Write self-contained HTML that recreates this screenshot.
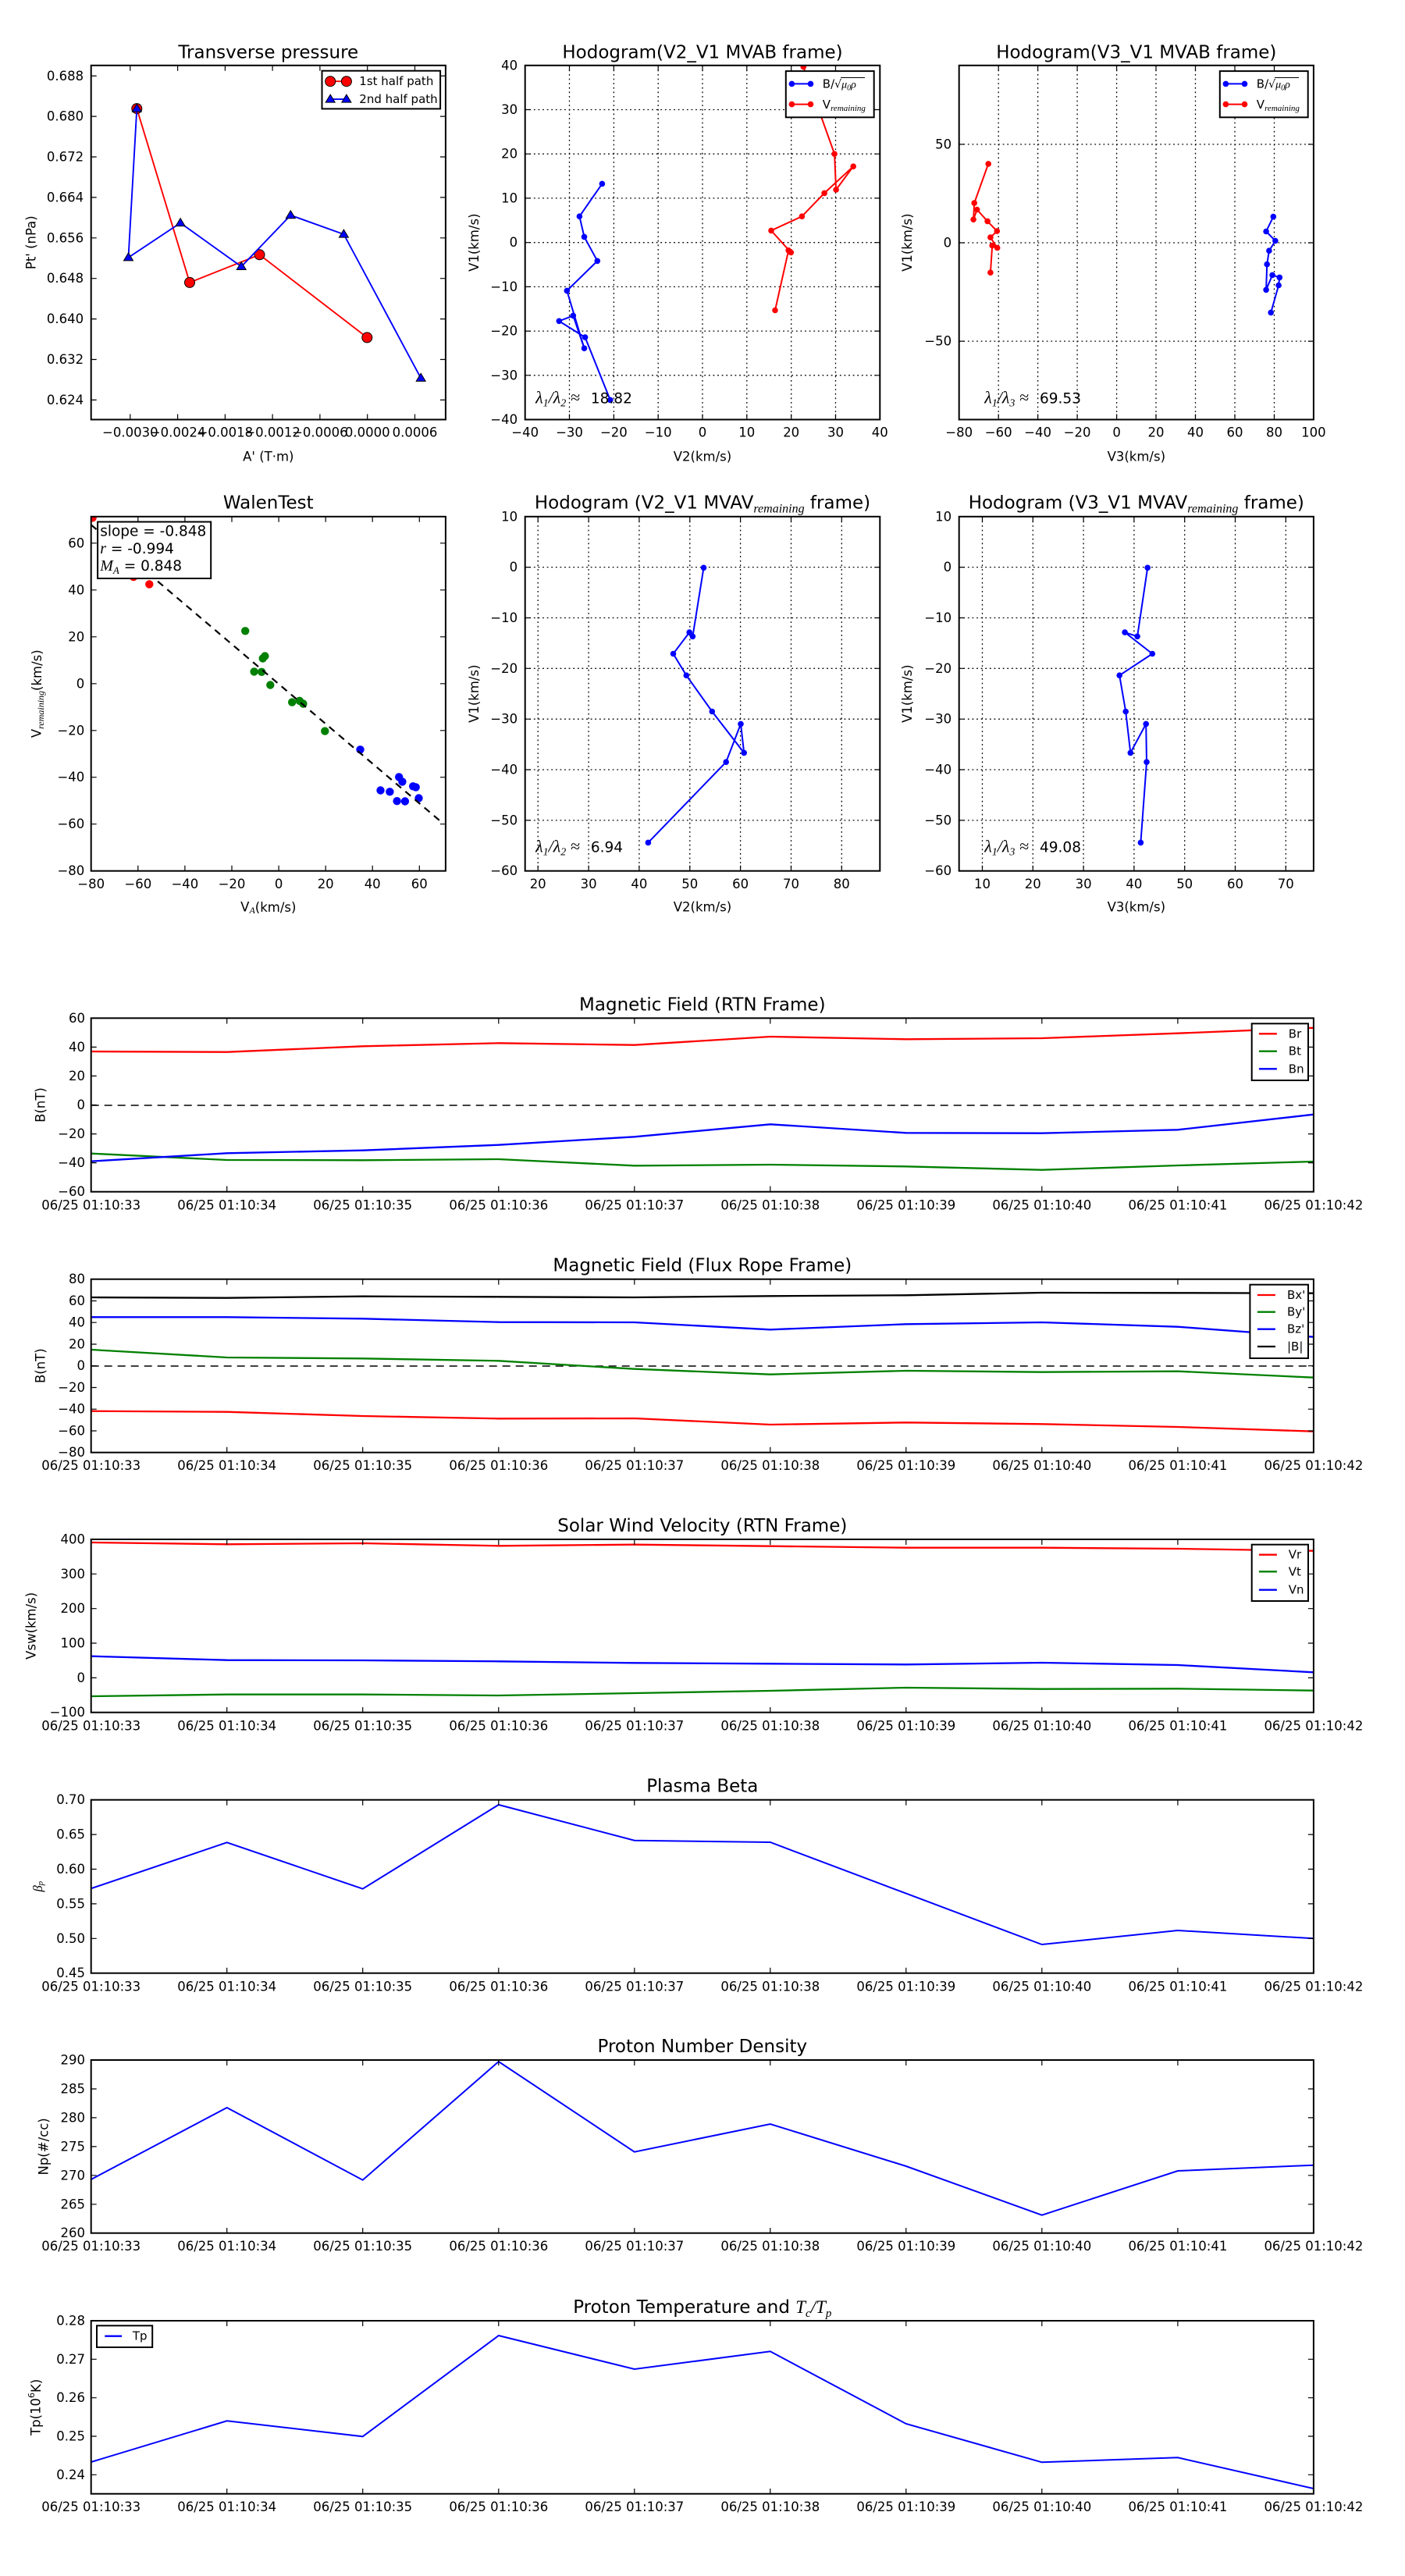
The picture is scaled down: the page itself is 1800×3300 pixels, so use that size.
<!DOCTYPE html>
<html>
<head>
<meta charset="utf-8">
<style>
  html, body { margin:0; padding:0; background:#fff; }
  svg { display:block; }
  text { font-family: "DejaVu Sans", "Liberation Sans", sans-serif; fill:#000; }
  .tk { font-size:16.5px; }
  .lb { font-size:16.5px; }
  .ti { font-size:23px; }
  .lg { font-size:15px; }
  .mt { font-family: "Liberation Serif", "DejaVu Serif", serif; font-style:italic; }
  .ann { font-size:18.5px; }
  .lam { font-size:22px; }
</style>
</head>
<body>
<svg width="1800" height="3300" viewBox="0 0 1800 3300" xmlns="http://www.w3.org/2000/svg">
<defs>
  <clipPath id="c1"><rect x="116.7" y="83.8" width="454.2" height="453.7"/></clipPath>
  <clipPath id="c2"><rect x="672.7" y="83.8" width="454.6" height="453.7"/></clipPath>
  <clipPath id="c3"><rect x="1228.7" y="83.8" width="454.2" height="453.7"/></clipPath>
  <clipPath id="c4"><rect x="116.7" y="661.8" width="454.2" height="453.9"/></clipPath>
  <clipPath id="c5"><rect x="672.7" y="661.8" width="454.6" height="453.9"/></clipPath>
  <clipPath id="c6"><rect x="1228.7" y="661.8" width="454.2" height="453.9"/></clipPath>
  <clipPath id="cts"><rect x="116.7" y="0" width="1566.2" height="3300"/></clipPath>
  <path id="xt" d="M290.7 0v7M464.7 0v7M638.8 0v7M812.8 0v7M986.8 0v7M1160.8 0v7M1334.8 0v7M1508.9 0v7M290.7 222v-7M464.7 222v-7M638.8 222v-7M812.8 222v-7M986.8 222v-7M1160.8 222v-7M1334.8 222v-7M1508.9 222v-7" stroke="#000" stroke-width="1.2" fill="none"/>
</defs>

<!-- ================= ROW 1 ================= -->
<!-- Panel 1: Transverse pressure -->
<text class="ti" x="343.8" y="74.3" text-anchor="middle">Transverse pressure</text>
<g clip-path="url(#c1)">
  <polyline points="175.3,139.1 243.0,361.9 332.5,326.3 470.3,432.4" fill="none" stroke="#ff0000" stroke-width="1.9"/>
  <g fill="#ff0000" stroke="#000" stroke-width="1">
    <circle cx="175.3" cy="139.1" r="6.5"/><circle cx="243.0" cy="361.9" r="6.5"/>
    <circle cx="332.5" cy="326.3" r="6.5"/><circle cx="470.3" cy="432.4" r="6.5"/>
  </g>
  <polyline points="175.3,139.1 164.5,329.9 231.1,285.6 309.2,341.5 372.3,275.7 440.4,300.1 539.2,484.4" fill="none" stroke="#0000ff" stroke-width="1.9"/>
  <g fill="#0000ff" stroke="#000" stroke-width="1">
    <polygon points="175.3,133.1 169.3,143.1 181.3,143.1"/>
    <polygon points="164.5,323.9 158.5,333.9 170.5,333.9"/>
    <polygon points="231.1,279.6 225.1,289.6 237.1,289.6"/>
    <polygon points="309.2,335.5 303.2,345.5 315.2,345.5"/>
    <polygon points="372.3,269.7 366.3,279.7 378.3,279.7"/>
    <polygon points="440.4,294.1 434.4,304.1 446.4,304.1"/>
    <polygon points="539.2,478.4 533.2,488.4 545.2,488.4"/>
  </g>
</g>
<path d="M166.8 537.5v-7M227.6 537.5v-7M288.4 537.5v-7M349.1 537.5v-7M409.9 537.5v-7M470.7 537.5v-7M531.5 537.5v-7M166.8 83.8v7M227.6 83.8v7M288.4 83.8v7M349.1 83.8v7M409.9 83.8v7M470.7 83.8v7M531.5 83.8v7M116.7 97.25h7M116.7 149.1h7M116.7 201h7M116.7 252.9h7M116.7 304.8h7M116.7 356.7h7M116.7 408.6h7M116.7 460.5h7M116.7 512.4h7M570.9 97.25h-7M570.9 149.1h-7M570.9 201h-7M570.9 252.9h-7M570.9 304.8h-7M570.9 356.7h-7M570.9 408.6h-7M570.9 460.5h-7M570.9 512.4h-7" stroke="#000" stroke-width="1.2" fill="none"/>
<rect x="116.7" y="83.8" width="454.2" height="453.7" fill="none" stroke="#000" stroke-width="2"/>
<!-- legend -->
<rect x="412.5" y="90.7" width="151.6" height="48.7" fill="#fff" stroke="#000" stroke-width="2"/>
<line x1="423.2" y1="104.2" x2="443.9" y2="104.2" stroke="#ff0000" stroke-width="1.9"/>
<circle cx="423.2" cy="104.2" r="6.5" fill="#ff0000" stroke="#000"/>
<circle cx="443.9" cy="104.2" r="6.5" fill="#ff0000" stroke="#000"/>
<line x1="423.2" y1="127.1" x2="443.9" y2="127.1" stroke="#0000ff" stroke-width="1.9"/>
<polygon points="423.2,121.1 417.2,131.1 429.2,131.1" fill="#0000ff" stroke="#000"/>
<polygon points="443.9,121.1 437.9,131.1 449.9,131.1" fill="#0000ff" stroke="#000"/>
<text class="lg" x="460.3" y="104.2" dominant-baseline="central">1st half path</text>
<text class="lg" x="460.3" y="127.1" dominant-baseline="central">2nd half path</text>
<g class="tk" text-anchor="end" dominant-baseline="central">
  <text x="107.1" y="97.25">0.688</text><text x="107.1" y="149.1">0.680</text><text x="107.1" y="201">0.672</text>
  <text x="107.1" y="252.9">0.664</text><text x="107.1" y="304.8">0.656</text><text x="107.1" y="356.7">0.648</text>
  <text x="107.1" y="408.6">0.640</text><text x="107.1" y="460.5">0.632</text><text x="107.1" y="512.4">0.624</text>
</g>
<g class="tk" text-anchor="middle" dominant-baseline="central">
  <text x="166.8" y="554">−0.0030</text><text x="227.6" y="554">−0.0024</text><text x="288.4" y="554">−0.0018</text>
  <text x="349.1" y="554">−0.0012</text><text x="409.9" y="554">−0.0006</text><text x="470.7" y="554">0.0000</text>
  <text x="531.5" y="554">0.0006</text>
</g>
<text class="lb" x="343.8" y="585" text-anchor="middle" dominant-baseline="central">A' (T·m)</text>
<text class="lb" transform="translate(40.2,310.7) rotate(-90)" text-anchor="middle" dominant-baseline="central">Pt' (nPa)</text>

<!-- Panel 2: Hodogram V2_V1 MVAB -->
<text class="ti" x="900" y="74.3" text-anchor="middle">Hodogram(V2_V1 MVAB frame)</text>
<path d="M729.5 83.8V537.5M786.4 83.8V537.5M843.2 83.8V537.5M900 83.8V537.5M956.8 83.8V537.5M1013.7 83.8V537.5M1070.5 83.8V537.5M672.7 140.5H1127.3M672.7 197.2H1127.3M672.7 253.9H1127.3M672.7 310.7H1127.3M672.7 367.4H1127.3M672.7 424.1H1127.3M672.7 480.8H1127.3" stroke="#000" stroke-width="1.3" stroke-dasharray="1.8,3.8" fill="none"/>
<g clip-path="url(#c2)">
  <polyline points="771.4,235.4 742.4,277.2 748.5,303.4 765.3,334.3 726.3,372.4 748.5,446.2 734.3,404.4 716.3,411.3 749.6,432.1 781.8,512.4" fill="none" stroke="#0000ff" stroke-width="2"/>
  <g fill="#0000ff">
    <circle cx="771.4" cy="235.4" r="3.8"/><circle cx="742.4" cy="277.2" r="3.8"/><circle cx="748.5" cy="303.4" r="3.8"/>
    <circle cx="765.3" cy="334.3" r="3.8"/><circle cx="726.3" cy="372.4" r="3.8"/><circle cx="748.5" cy="446.2" r="3.8"/>
    <circle cx="734.3" cy="404.4" r="3.8"/><circle cx="716.3" cy="411.3" r="3.8"/><circle cx="749.6" cy="432.1" r="3.8"/>
    <circle cx="781.8" cy="512.4" r="3.8"/>
  </g>
  <polyline points="1029.3,85.6 1069.1,197.2 1071.1,243.0 1093.2,213.2 1056.1,247.4 1027.4,277.2 988.0,295.4 1013.3,323.4 1010.2,320.8 993.0,397.5" fill="none" stroke="#ff0000" stroke-width="2"/>
  <g fill="#ff0000">
    <circle cx="1029.3" cy="85.6" r="3.8"/><circle cx="1069.1" cy="197.2" r="3.8"/><circle cx="1071.1" cy="243.0" r="3.8"/>
    <circle cx="1093.2" cy="213.2" r="3.8"/><circle cx="1056.1" cy="247.4" r="3.8"/><circle cx="1027.4" cy="277.2" r="3.8"/>
    <circle cx="988.0" cy="295.4" r="3.8"/><circle cx="1013.3" cy="323.4" r="3.8"/><circle cx="1010.2" cy="320.8" r="3.8"/>
    <circle cx="993.0" cy="397.5" r="3.8"/>
  </g>
</g>
<path d="M729.5 537.5v-7M786.4 537.5v-7M843.2 537.5v-7M900 537.5v-7M956.8 537.5v-7M1013.7 537.5v-7M1070.5 537.5v-7M729.5 83.8v7M786.4 83.8v7M843.2 83.8v7M900 83.8v7M956.8 83.8v7M1013.7 83.8v7M1070.5 83.8v7M672.7 140.5h7M672.7 197.2h7M672.7 253.9h7M672.7 310.7h7M672.7 367.4h7M672.7 424.1h7M672.7 480.8h7M1127.3 140.5h-7M1127.3 197.2h-7M1127.3 253.9h-7M1127.3 310.7h-7M1127.3 367.4h-7M1127.3 424.1h-7M1127.3 480.8h-7" stroke="#000" stroke-width="1.2" fill="none"/>
<rect x="672.7" y="83.8" width="454.6" height="453.7" fill="none" stroke="#000" stroke-width="2"/>
<g>
  <rect x="1006.8" y="91.1" width="112.9" height="59.2" fill="#fff" stroke="#000" stroke-width="2"/>
  <line x1="1014.4" y1="107.4" x2="1038.5" y2="107.4" stroke="#0000ff" stroke-width="2"/>
  <circle cx="1014.4" cy="107.4" r="3.8" fill="#0000ff"/><circle cx="1038.5" cy="107.4" r="3.8" fill="#0000ff"/>
  <line x1="1014.4" y1="133.6" x2="1038.5" y2="133.6" stroke="#ff0000" stroke-width="2"/>
  <circle cx="1014.4" cy="133.6" r="3.8" fill="#ff0000"/><circle cx="1038.5" cy="133.6" r="3.8" fill="#ff0000"/>
  <text class="lg" x="1053.8" y="112.5">B/<tspan font-family="DejaVu Sans" font-size="14">√</tspan><tspan class="mt" font-size="14">μ</tspan><tspan class="mt" font-size="10" font-style="normal" dy="3">0</tspan><tspan class="mt" font-size="14" dy="-3">ρ</tspan></text>
  <line x1="1077" y1="99.5" x2="1108" y2="99.5" stroke="#000" stroke-width="0.9"/>
  <text class="lg" x="1053.8" y="138.8">V<tspan class="mt" font-size="11" dy="3">remaining</tspan></text>
</g>
<text class="lam" x="686.1" y="516.4"><tspan class="mt">λ</tspan><tspan class="mt" font-style="normal" font-size="14" dy="4">1</tspan><tspan class="mt" dy="-4">/λ</tspan><tspan class="mt" font-style="normal" font-size="14" dy="4">2</tspan><tspan class="mt" font-style="normal" dy="-4"> ≈</tspan></text>
<text class="ann" x="756.9" y="516.4">18.82</text>
<g class="tk" text-anchor="end" dominant-baseline="central">
  <text x="663.1" y="83.8">40</text><text x="663.1" y="140.5">30</text><text x="663.1" y="197.2">20</text>
  <text x="663.1" y="253.9">10</text><text x="663.1" y="310.7">0</text><text x="663.1" y="367.4">−10</text>
  <text x="663.1" y="424.1">−20</text><text x="663.1" y="480.8">−30</text><text x="663.1" y="537.5">−40</text>
</g>
<g class="tk" text-anchor="middle" dominant-baseline="central">
  <text x="672.7" y="554">−40</text><text x="729.5" y="554">−30</text><text x="786.4" y="554">−20</text>
  <text x="843.2" y="554">−10</text><text x="900" y="554">0</text><text x="956.8" y="554">10</text>
  <text x="1013.7" y="554">20</text><text x="1070.5" y="554">30</text><text x="1127.3" y="554">40</text>
</g>
<text class="lb" x="900" y="585" text-anchor="middle" dominant-baseline="central">V2(km/s)</text>
<text class="lb" transform="translate(607.7,310.7) rotate(-90)" text-anchor="middle" dominant-baseline="central">V1(km/s)</text>

<!-- Panel 3: Hodogram V3_V1 MVAB -->
<text class="ti" x="1455.8" y="74.3" text-anchor="middle">Hodogram(V3_V1 MVAB frame)</text>
<path d="M1279.2 83.8V537.5M1329.6 83.8V537.5M1380.1 83.8V537.5M1430.6 83.8V537.5M1481 83.8V537.5M1531.5 83.8V537.5M1582 83.8V537.5M1632.5 83.8V537.5M1228.7 184.9H1682.9M1228.7 311H1682.9M1228.7 437.1H1682.9" stroke="#000" stroke-width="1.3" stroke-dasharray="1.8,3.8" fill="none"/>
<g clip-path="url(#c3)">
  <polyline points="1266.2,209.9 1248.2,260.1 1247.1,281.2 1251.7,268.5 1265.1,283.4 1277.3,296.1 1268.9,304.1 1277.7,317.5 1271.2,314.6 1268.9,349.2" fill="none" stroke="#ff0000" stroke-width="2"/>
  <g fill="#ff0000">
    <circle cx="1266.2" cy="209.9" r="3.8"/><circle cx="1248.2" cy="260.1" r="3.8"/><circle cx="1247.1" cy="281.2" r="3.8"/>
    <circle cx="1251.7" cy="268.5" r="3.8"/><circle cx="1265.1" cy="283.4" r="3.8"/><circle cx="1277.3" cy="296.1" r="3.8"/>
    <circle cx="1268.9" cy="304.1" r="3.8"/><circle cx="1277.7" cy="317.5" r="3.8"/><circle cx="1271.2" cy="314.6" r="3.8"/>
    <circle cx="1268.9" cy="349.2" r="3.8"/>
  </g>
  <polyline points="1631.3,277.6 1622.1,296.5 1633.9,308.5 1625.9,321.2 1623.2,338.6 1622.1,371.3 1630.1,352.4 1639.3,355.4 1638.1,365.5 1628.2,400.4" fill="none" stroke="#0000ff" stroke-width="2"/>
  <g fill="#0000ff">
    <circle cx="1631.3" cy="277.6" r="3.8"/><circle cx="1622.1" cy="296.5" r="3.8"/><circle cx="1633.9" cy="308.5" r="3.8"/>
    <circle cx="1625.9" cy="321.2" r="3.8"/><circle cx="1623.2" cy="338.6" r="3.8"/><circle cx="1622.1" cy="371.3" r="3.8"/>
    <circle cx="1630.1" cy="352.4" r="3.8"/><circle cx="1639.3" cy="355.4" r="3.8"/><circle cx="1638.1" cy="365.5" r="3.8"/>
    <circle cx="1628.2" cy="400.4" r="3.8"/>
  </g>
</g>
<path d="M1279.2 537.5v-7M1329.6 537.5v-7M1380.1 537.5v-7M1430.6 537.5v-7M1481 537.5v-7M1531.5 537.5v-7M1582 537.5v-7M1632.5 537.5v-7M1279.2 83.8v7M1329.6 83.8v7M1380.1 83.8v7M1430.6 83.8v7M1481 83.8v7M1531.5 83.8v7M1582 83.8v7M1632.5 83.8v7M1228.7 184.9h7M1228.7 311h7M1228.7 437.1h7M1682.9 184.9h-7M1682.9 311h-7M1682.9 437.1h-7" stroke="#000" stroke-width="1.2" fill="none"/>
<rect x="1228.7" y="83.8" width="454.2" height="453.7" fill="none" stroke="#000" stroke-width="2"/>
<g transform="translate(556,0)">
  <rect x="1006.8" y="91.1" width="112.9" height="59.2" fill="#fff" stroke="#000" stroke-width="2"/>
  <line x1="1014.4" y1="107.4" x2="1038.5" y2="107.4" stroke="#0000ff" stroke-width="2"/>
  <circle cx="1014.4" cy="107.4" r="3.8" fill="#0000ff"/><circle cx="1038.5" cy="107.4" r="3.8" fill="#0000ff"/>
  <line x1="1014.4" y1="133.6" x2="1038.5" y2="133.6" stroke="#ff0000" stroke-width="2"/>
  <circle cx="1014.4" cy="133.6" r="3.8" fill="#ff0000"/><circle cx="1038.5" cy="133.6" r="3.8" fill="#ff0000"/>
  <text class="lg" x="1053.8" y="112.5">B/<tspan font-family="DejaVu Sans" font-size="14">√</tspan><tspan class="mt" font-size="14">μ</tspan><tspan class="mt" font-size="10" font-style="normal" dy="3">0</tspan><tspan class="mt" font-size="14" dy="-3">ρ</tspan></text>
  <line x1="1077" y1="99.5" x2="1108" y2="99.5" stroke="#000" stroke-width="0.9"/>
  <text class="lg" x="1053.8" y="138.8">V<tspan class="mt" font-size="11" dy="3">remaining</tspan></text>
</g>
<text class="lam" x="1261.2" y="516.4"><tspan class="mt">λ</tspan><tspan class="mt" font-style="normal" font-size="14" dy="4">1</tspan><tspan class="mt" dy="-4">/λ</tspan><tspan class="mt" font-style="normal" font-size="14" dy="4">3</tspan><tspan class="mt" font-style="normal" dy="-4"> ≈</tspan></text>
<text class="ann" x="1332" y="516.4">69.53</text>
<g class="tk" text-anchor="end" dominant-baseline="central">
  <text x="1219.1" y="184.9">50</text><text x="1219.1" y="311">0</text><text x="1219.1" y="437.1">−50</text>
</g>
<g class="tk" text-anchor="middle" dominant-baseline="central">
  <text x="1228.7" y="554">−80</text><text x="1279.2" y="554">−60</text><text x="1329.6" y="554">−40</text>
  <text x="1380.1" y="554">−20</text><text x="1430.6" y="554">0</text><text x="1481" y="554">20</text>
  <text x="1531.5" y="554">40</text><text x="1582" y="554">60</text><text x="1632.5" y="554">80</text>
  <text x="1682.9" y="554">100</text>
</g>
<text class="lb" x="1455.8" y="585" text-anchor="middle" dominant-baseline="central">V3(km/s)</text>
<text class="lb" transform="translate(1162.5,310.7) rotate(-90)" text-anchor="middle" dominant-baseline="central">V1(km/s)</text>

<!-- ================= ROW 2 ================= -->
<!-- Panel 4: WalenTest -->
<text class="ti" x="343.8" y="651.4" text-anchor="middle">WalenTest</text>
<g clip-path="url(#c4)">
  <g fill="#ff0000">
    <circle cx="118.6" cy="663.3" r="5.2"/><circle cx="171.1" cy="739.1" r="5.2"/><circle cx="191.3" cy="748.4" r="5.2"/>
  </g>
  <g fill="#008000">
    <circle cx="314.2" cy="808.3" r="5.2"/><circle cx="325.6" cy="860.4" r="5.2"/><circle cx="335.2" cy="860.8" r="5.2"/>
    <circle cx="336.7" cy="843.4" r="5.2"/><circle cx="339.4" cy="840.5" r="5.2"/><circle cx="346.3" cy="877.5" r="5.2"/>
    <circle cx="374.2" cy="899.6" r="5.2"/><circle cx="383.8" cy="897.8" r="5.2"/><circle cx="388.4" cy="901.5" r="5.2"/>
    <circle cx="416.3" cy="936.6" r="5.2"/>
  </g>
  <g fill="#0000ff">
    <circle cx="461.5" cy="960.3" r="5.2"/><circle cx="487.5" cy="1012.5" r="5.2"/><circle cx="499.4" cy="1014.3" r="5.2"/>
    <circle cx="511.2" cy="995.4" r="5.2"/><circle cx="515.4" cy="1001.4" r="5.2"/><circle cx="508.6" cy="1026.2" r="5.2"/>
    <circle cx="518.9" cy="1026.5" r="5.2"/><circle cx="529.2" cy="1007.3" r="5.2"/><circle cx="532.7" cy="1008.4" r="5.2"/>
    <circle cx="536.5" cy="1022.5" r="5.2"/>
  </g>
  <line x1="116.7" y1="672.3" x2="566" y2="1053.5" stroke="#000" stroke-width="2.2" stroke-dasharray="9,7"/>
</g>
<path d="M176.8 1115.7v-7M236.9 1115.7v-7M297 1115.7v-7M357.1 1115.7v-7M417.2 1115.7v-7M477.2 1115.7v-7M537.3 1115.7v-7M176.8 661.8v7M236.9 661.8v7M297 661.8v7M357.1 661.8v7M417.2 661.8v7M477.2 661.8v7M537.3 661.8v7M116.7 695.8h7M116.7 755.8h7M116.7 815.8h7M116.7 875.8h7M116.7 935.8h7M116.7 995.7h7M116.7 1055.7h7M570.9 695.8h-7M570.9 755.8h-7M570.9 815.8h-7M570.9 875.8h-7M570.9 935.8h-7M570.9 995.7h-7M570.9 1055.7h-7" stroke="#000" stroke-width="1.2" fill="none"/>
<rect x="116.7" y="661.8" width="454.2" height="453.9" fill="none" stroke="#000" stroke-width="2"/>
<rect x="125.1" y="668.5" width="145.1" height="72.5" fill="#fff" stroke="#000" stroke-width="2"/>
<g class="ann">
  <text x="128.2" y="686.6">slope = -0.848</text>
  <text x="128.2" y="708.8"><tspan class="mt" font-size="20">r</tspan> = -0.994</text>
  <text x="128.2" y="731"><tspan class="mt" font-size="20">M</tspan><tspan class="mt" font-size="13" dy="4">A</tspan><tspan dy="-4"> = 0.848</tspan></text>
</g>
<g class="tk" text-anchor="end" dominant-baseline="central">
  <text x="108.3" y="695.8">60</text><text x="108.3" y="755.8">40</text><text x="108.3" y="815.8">20</text>
  <text x="108.3" y="875.8">0</text><text x="108.3" y="935.8">−20</text><text x="108.3" y="995.7">−40</text>
  <text x="108.3" y="1055.7">−60</text><text x="108.3" y="1115.7">−80</text>
</g>
<g class="tk" text-anchor="middle" dominant-baseline="central">
  <text x="116.7" y="1132.3">−80</text><text x="176.8" y="1132.3">−60</text><text x="236.9" y="1132.3">−40</text>
  <text x="297" y="1132.3">−20</text><text x="357.1" y="1132.3">0</text><text x="417.2" y="1132.3">20</text>
  <text x="477.2" y="1132.3">40</text><text x="537.3" y="1132.3">60</text>
</g>
<text class="lb" x="343.8" y="1161.9" text-anchor="middle" dominant-baseline="central">V<tspan class="mt" font-size="12" dy="4">A</tspan><tspan dy="-4">(km/s)</tspan></text>
<text class="lb" transform="translate(47,888.7) rotate(-90)" text-anchor="middle" dominant-baseline="central">V<tspan class="mt" font-size="12" dy="5">remaining</tspan><tspan dy="-5">(km/s)</tspan></text>

<!-- Panel 5: Hodogram V2_V1 MVAV -->
<text class="ti" x="900" y="651.4" text-anchor="middle">Hodogram (V2_V1 MVAV<tspan class="mt" font-size="16" dy="5">remaining</tspan><tspan dy="-5"> frame)</tspan></text>
<path d="M689.2 661.8V1115.7M754.1 661.8V1115.7M818.9 661.8V1115.7M883.8 661.8V1115.7M948.6 661.8V1115.7M1013.5 661.8V1115.7M1078.3 661.8V1115.7M672.7 726.6H1127.3M672.7 791.5H1127.3M672.7 856.3H1127.3M672.7 921.2H1127.3M672.7 986H1127.3M672.7 1050.9H1127.3" stroke="#000" stroke-width="1.3" stroke-dasharray="1.8,3.8" fill="none"/>
<g clip-path="url(#c5)">
  <polyline points="901.5,727.3 887.4,815.3 883.2,810.1 862.5,837.5 879.3,865.2 912.3,911.5 953.2,964.4 949.0,927.4 930.2,976.2 830.4,1079.4" fill="none" stroke="#0000ff" stroke-width="2"/>
  <g fill="#0000ff">
    <circle cx="901.5" cy="727.3" r="3.8"/><circle cx="887.4" cy="815.3" r="3.8"/><circle cx="883.2" cy="810.1" r="3.8"/>
    <circle cx="862.5" cy="837.5" r="3.8"/><circle cx="879.3" cy="865.2" r="3.8"/><circle cx="912.3" cy="911.5" r="3.8"/>
    <circle cx="953.2" cy="964.4" r="3.8"/><circle cx="949.0" cy="927.4" r="3.8"/><circle cx="930.2" cy="976.2" r="3.8"/>
    <circle cx="830.4" cy="1079.4" r="3.8"/>
  </g>
</g>
<path d="M689.2 1115.7v-7M754.1 1115.7v-7M818.9 1115.7v-7M883.8 1115.7v-7M948.6 1115.7v-7M1013.5 1115.7v-7M1078.3 1115.7v-7M689.2 661.8v7M754.1 661.8v7M818.9 661.8v7M883.8 661.8v7M948.6 661.8v7M1013.5 661.8v7M1078.3 661.8v7M672.7 726.6h7M672.7 791.5h7M672.7 856.3h7M672.7 921.2h7M672.7 986h7M672.7 1050.9h7M1127.3 726.6h-7M1127.3 791.5h-7M1127.3 856.3h-7M1127.3 921.2h-7M1127.3 986h-7M1127.3 1050.9h-7" stroke="#000" stroke-width="1.2" fill="none"/>
<rect x="672.7" y="661.8" width="454.6" height="453.9" fill="none" stroke="#000" stroke-width="2"/>
<text class="lam" x="686.1" y="1091.6"><tspan class="mt">λ</tspan><tspan class="mt" font-style="normal" font-size="14" dy="4">1</tspan><tspan class="mt" dy="-4">/λ</tspan><tspan class="mt" font-style="normal" font-size="14" dy="4">2</tspan><tspan class="mt" font-style="normal" dy="-4"> ≈</tspan></text>
<text class="ann" x="756.9" y="1091.6">6.94</text>
<g class="tk" text-anchor="end" dominant-baseline="central">
  <text x="663.1" y="661.8">10</text><text x="663.1" y="726.6">0</text><text x="663.1" y="791.5">−10</text>
  <text x="663.1" y="856.3">−20</text><text x="663.1" y="921.2">−30</text><text x="663.1" y="986">−40</text>
  <text x="663.1" y="1050.9">−50</text><text x="663.1" y="1115.7">−60</text>
</g>
<g class="tk" text-anchor="middle" dominant-baseline="central">
  <text x="689.2" y="1132.3">20</text><text x="754.1" y="1132.3">30</text><text x="818.9" y="1132.3">40</text>
  <text x="883.8" y="1132.3">50</text><text x="948.6" y="1132.3">60</text><text x="1013.5" y="1132.3">70</text>
  <text x="1078.3" y="1132.3">80</text>
</g>
<text class="lb" x="900" y="1161.9" text-anchor="middle" dominant-baseline="central">V2(km/s)</text>
<text class="lb" transform="translate(607.7,888.7) rotate(-90)" text-anchor="middle" dominant-baseline="central">V1(km/s)</text>

<!-- Panel 6: Hodogram V3_V1 MVAV -->
<text class="ti" x="1455.8" y="651.4" text-anchor="middle">Hodogram (V3_V1 MVAV<tspan class="mt" font-size="16" dy="5">remaining</tspan><tspan dy="-5"> frame)</tspan></text>
<path d="M1258.5 661.8V1115.7M1323.3 661.8V1115.7M1388.1 661.8V1115.7M1452.9 661.8V1115.7M1517.7 661.8V1115.7M1582.5 661.8V1115.7M1647.3 661.8V1115.7M1228.7 726.6H1682.9M1228.7 791.5H1682.9M1228.7 856.3H1682.9M1228.7 921.2H1682.9M1228.7 986H1682.9M1228.7 1050.9H1682.9" stroke="#000" stroke-width="1.3" stroke-dasharray="1.8,3.8" fill="none"/>
<g clip-path="url(#c6)">
  <polyline points="1470.2,727.3 1457.1,815.3 1441.1,810.1 1476.3,837.5 1434.2,865.2 1442.2,911.5 1448.3,964.4 1468.2,927.4 1469.0,976.2 1461.4,1079.4" fill="none" stroke="#0000ff" stroke-width="2"/>
  <g fill="#0000ff">
    <circle cx="1470.2" cy="727.3" r="3.8"/><circle cx="1457.1" cy="815.3" r="3.8"/><circle cx="1441.1" cy="810.1" r="3.8"/>
    <circle cx="1476.3" cy="837.5" r="3.8"/><circle cx="1434.2" cy="865.2" r="3.8"/><circle cx="1442.2" cy="911.5" r="3.8"/>
    <circle cx="1448.3" cy="964.4" r="3.8"/><circle cx="1468.2" cy="927.4" r="3.8"/><circle cx="1469.0" cy="976.2" r="3.8"/>
    <circle cx="1461.4" cy="1079.4" r="3.8"/>
  </g>
</g>
<path d="M1258.5 1115.7v-7M1323.3 1115.7v-7M1388.1 1115.7v-7M1452.9 1115.7v-7M1517.7 1115.7v-7M1582.5 1115.7v-7M1647.3 1115.7v-7M1258.5 661.8v7M1323.3 661.8v7M1388.1 661.8v7M1452.9 661.8v7M1517.7 661.8v7M1582.5 661.8v7M1647.3 661.8v7M1228.7 726.6h7M1228.7 791.5h7M1228.7 856.3h7M1228.7 921.2h7M1228.7 986h7M1228.7 1050.9h7M1682.9 726.6h-7M1682.9 791.5h-7M1682.9 856.3h-7M1682.9 921.2h-7M1682.9 986h-7M1682.9 1050.9h-7" stroke="#000" stroke-width="1.2" fill="none"/>
<rect x="1228.7" y="661.8" width="454.2" height="453.9" fill="none" stroke="#000" stroke-width="2"/>
<text class="lam" x="1261.2" y="1091.6"><tspan class="mt">λ</tspan><tspan class="mt" font-style="normal" font-size="14" dy="4">1</tspan><tspan class="mt" dy="-4">/λ</tspan><tspan class="mt" font-style="normal" font-size="14" dy="4">3</tspan><tspan class="mt" font-style="normal" dy="-4"> ≈</tspan></text>
<text class="ann" x="1332" y="1091.6">49.08</text>
<g class="tk" text-anchor="end" dominant-baseline="central">
  <text x="1219.1" y="661.8">10</text><text x="1219.1" y="726.6">0</text><text x="1219.1" y="791.5">−10</text>
  <text x="1219.1" y="856.3">−20</text><text x="1219.1" y="921.2">−30</text><text x="1219.1" y="986">−40</text>
  <text x="1219.1" y="1050.9">−50</text><text x="1219.1" y="1115.7">−60</text>
</g>
<g class="tk" text-anchor="middle" dominant-baseline="central">
  <text x="1258.5" y="1132.3">10</text><text x="1323.3" y="1132.3">20</text><text x="1388.1" y="1132.3">30</text>
  <text x="1452.9" y="1132.3">40</text><text x="1517.7" y="1132.3">50</text><text x="1582.5" y="1132.3">60</text>
  <text x="1647.3" y="1132.3">70</text>
</g>
<text class="lb" x="1455.8" y="1161.9" text-anchor="middle" dominant-baseline="central">V3(km/s)</text>
<text class="lb" transform="translate(1162.5,888.7) rotate(-90)" text-anchor="middle" dominant-baseline="central">V1(km/s)</text>

<!-- ================= TIME SERIES ================= -->
<!-- P7: Magnetic Field (RTN Frame) -->
<text class="ti" x="899.8" y="1294.3" text-anchor="middle">Magnetic Field (RTN Frame)</text>
<line x1="116.7" y1="1416" x2="1682.9" y2="1416" stroke="#000" stroke-width="1.6" stroke-dasharray="10,7"/>
<g clip-path="url(#cts)" fill="none" stroke-width="2.3">
  <polyline stroke="#ff0000" points="116.7,1347 290.7,1347.7 464.7,1340.3 638.8,1336.3 812.8,1338.7 986.8,1328 1160.8,1331.3 1334.8,1330 1508.9,1323.7 1682.9,1316.7"/>
  <polyline stroke="#008000" points="116.7,1477.7 290.7,1486 464.7,1486.3 638.8,1485 812.8,1493.3 986.8,1492 1160.8,1494.3 1334.8,1498.7 1508.9,1493 1682.9,1488"/>
  <polyline stroke="#0000ff" points="116.7,1487.7 290.7,1477.3 464.7,1473.7 638.8,1466.7 812.8,1456.3 986.8,1440.3 1160.8,1451.3 1334.8,1451.7 1508.9,1447.3 1682.9,1427.7"/>
</g>
<use href="#xt" y="1304.5"/>
<path d="M116.7 1341.4h7M116.7 1378.4h7M116.7 1415.5h7M116.7 1452.6h7M116.7 1489.6h7M1682.9 1341.4h-7M1682.9 1378.4h-7M1682.9 1415.5h-7M1682.9 1452.6h-7M1682.9 1489.6h-7" stroke="#000" stroke-width="1.2"/>
<rect x="116.7" y="1304.3" width="1566.2" height="222.4" fill="none" stroke="#000" stroke-width="2"/>
<rect x="1603.7" y="1311.3" width="72.3" height="72.7" fill="#fff" stroke="#000" stroke-width="2"/>
<line x1="1612.9" y1="1324.3" x2="1635.9" y2="1324.3" stroke="#ff0000" stroke-width="2.3"/>
<line x1="1612.9" y1="1346.7" x2="1635.9" y2="1346.7" stroke="#008000" stroke-width="2.3"/>
<line x1="1612.9" y1="1369.3" x2="1635.9" y2="1369.3" stroke="#0000ff" stroke-width="2.3"/>
<g class="lg" dominant-baseline="central">
  <text x="1650.8" y="1324.3">Br</text><text x="1650.8" y="1346.7">Bt</text><text x="1650.8" y="1369.3">Bn</text>
</g>
<g class="tk" text-anchor="end" dominant-baseline="central">
  <text x="109" y="1304.3">60</text><text x="109" y="1341.4">40</text><text x="109" y="1378.4">20</text>
  <text x="109" y="1415.5">0</text><text x="109" y="1452.6">−20</text><text x="109" y="1489.6">−40</text>
  <text x="109" y="1526.7">−60</text>
</g>
<g class="tk" text-anchor="middle" dominant-baseline="central">
  <text x="116.7" y="1544">06/25 01:10:33</text><text x="290.7" y="1544">06/25 01:10:34</text>
  <text x="464.7" y="1544">06/25 01:10:35</text><text x="638.8" y="1544">06/25 01:10:36</text>
  <text x="812.8" y="1544">06/25 01:10:37</text><text x="986.8" y="1544">06/25 01:10:38</text>
  <text x="1160.8" y="1544">06/25 01:10:39</text><text x="1334.8" y="1544">06/25 01:10:40</text>
  <text x="1508.9" y="1544">06/25 01:10:41</text><text x="1682.9" y="1544">06/25 01:10:42</text>
</g>
<text class="lb" transform="translate(52,1415.5) rotate(-90)" text-anchor="middle" dominant-baseline="central">B(nT)</text>

<!-- P8: Magnetic Field (Flux Rope Frame) -->
<text class="ti" x="899.8" y="1628.7" text-anchor="middle">Magnetic Field (Flux Rope Frame)</text>
<line x1="116.7" y1="1750" x2="1682.9" y2="1750" stroke="#000" stroke-width="1.6" stroke-dasharray="10,7"/>
<g clip-path="url(#cts)" fill="none" stroke-width="2.3">
  <polyline stroke="#000000" points="116.7,1662 290.7,1662.7 464.7,1660.7 638.8,1661.3 812.8,1662 986.8,1660.3 1160.8,1659.3 1334.8,1656 1508.9,1656.3 1682.9,1656.7"/>
  <polyline stroke="#0000ff" points="116.7,1687.3 290.7,1687.3 464.7,1689.3 638.8,1693.7 812.8,1694 986.8,1703.3 1160.8,1696.3 1334.8,1694 1508.9,1699.7 1682.9,1712.7"/>
  <polyline stroke="#008000" points="116.7,1729 290.7,1739 464.7,1740.3 638.8,1743.3 812.8,1753.7 986.8,1760.7 1160.8,1756 1334.8,1757.7 1508.9,1756.7 1682.9,1764.7"/>
  <polyline stroke="#ff0000" points="116.7,1807.7 290.7,1808.7 464.7,1814 638.8,1817.3 812.8,1817 986.8,1825 1160.8,1822.3 1334.8,1824.3 1508.9,1828 1682.9,1833.7"/>
</g>
<use href="#xt" y="1638.7"/>
<path d="M116.7 1666.5h7M116.7 1694.2h7M116.7 1722h7M116.7 1749.7h7M116.7 1777.5h7M116.7 1805.2h7M116.7 1833h7M1682.9 1666.5h-7M1682.9 1694.2h-7M1682.9 1722h-7M1682.9 1749.7h-7M1682.9 1777.5h-7M1682.9 1805.2h-7M1682.9 1833h-7" stroke="#000" stroke-width="1.2"/>
<rect x="116.7" y="1638.7" width="1566.2" height="222" fill="none" stroke="#000" stroke-width="2"/>
<rect x="1601.4" y="1645.7" width="74.6" height="94.3" fill="#fff" stroke="#000" stroke-width="2"/>
<line x1="1610.9" y1="1659" x2="1633.9" y2="1659" stroke="#ff0000" stroke-width="2.3"/>
<line x1="1610.9" y1="1680.7" x2="1633.9" y2="1680.7" stroke="#008000" stroke-width="2.3"/>
<line x1="1610.9" y1="1702.7" x2="1633.9" y2="1702.7" stroke="#0000ff" stroke-width="2.3"/>
<line x1="1610.9" y1="1725" x2="1633.9" y2="1725" stroke="#000000" stroke-width="2.3"/>
<g class="lg" dominant-baseline="central">
  <text x="1649" y="1659">Bx'</text><text x="1649" y="1680.7">By'</text><text x="1649" y="1702.7">Bz'</text><text x="1649" y="1725">|B|</text>
</g>
<g class="tk" text-anchor="end" dominant-baseline="central">
  <text x="109" y="1638.7">80</text><text x="109" y="1666.5">60</text><text x="109" y="1694.2">40</text>
  <text x="109" y="1722">20</text><text x="109" y="1749.7">0</text><text x="109" y="1777.5">−20</text>
  <text x="109" y="1805.2">−40</text><text x="109" y="1833">−60</text><text x="109" y="1860.7">−80</text>
</g>
<g class="tk" text-anchor="middle" dominant-baseline="central">
  <text x="116.7" y="1877.7">06/25 01:10:33</text><text x="290.7" y="1877.7">06/25 01:10:34</text>
  <text x="464.7" y="1877.7">06/25 01:10:35</text><text x="638.8" y="1877.7">06/25 01:10:36</text>
  <text x="812.8" y="1877.7">06/25 01:10:37</text><text x="986.8" y="1877.7">06/25 01:10:38</text>
  <text x="1160.8" y="1877.7">06/25 01:10:39</text><text x="1334.8" y="1877.7">06/25 01:10:40</text>
  <text x="1508.9" y="1877.7">06/25 01:10:41</text><text x="1682.9" y="1877.7">06/25 01:10:42</text>
</g>
<text class="lb" transform="translate(52,1749.7) rotate(-90)" text-anchor="middle" dominant-baseline="central">B(nT)</text>

<!-- P9: Solar Wind Velocity -->
<text class="ti" x="899.8" y="1962" text-anchor="middle">Solar Wind Velocity (RTN Frame)</text>
<g clip-path="url(#cts)" fill="none" stroke-width="2.3">
  <polyline stroke="#ff0000" points="116.7,1976 290.7,1978.3 464.7,1977 638.8,1980.3 812.8,1978.7 986.8,1980.7 1160.8,1982.7 1334.8,1982.7 1508.9,1984 1682.9,1986.7"/>
  <polyline stroke="#008000" points="116.7,2173 290.7,2170.7 464.7,2170.7 638.8,2172 812.8,2169 986.8,2166 1160.8,2162 1334.8,2163.7 1508.9,2163.3 1682.9,2165.7"/>
  <polyline stroke="#0000ff" points="116.7,2121.7 290.7,2126.7 464.7,2127 638.8,2128.3 812.8,2130.3 986.8,2131.3 1160.8,2132.3 1334.8,2130 1508.9,2133 1682.9,2142.3"/>
</g>
<use href="#xt" y="1972"/>
<path d="M116.7 2016.3h7M116.7 2060.7h7M116.7 2105h7M116.7 2149.4h7M1682.9 2016.3h-7M1682.9 2060.7h-7M1682.9 2105h-7M1682.9 2149.4h-7" stroke="#000" stroke-width="1.2"/>
<rect x="116.7" y="1972" width="1566.2" height="221.7" fill="none" stroke="#000" stroke-width="2"/>
<rect x="1603.7" y="1978.7" width="72.3" height="72.3" fill="#fff" stroke="#000" stroke-width="2"/>
<line x1="1612.9" y1="1991.7" x2="1635.9" y2="1991.7" stroke="#ff0000" stroke-width="2.3"/>
<line x1="1612.9" y1="2013.3" x2="1635.9" y2="2013.3" stroke="#008000" stroke-width="2.3"/>
<line x1="1612.9" y1="2036.7" x2="1635.9" y2="2036.7" stroke="#0000ff" stroke-width="2.3"/>
<g class="lg" dominant-baseline="central">
  <text x="1650.8" y="1991.7">Vr</text><text x="1650.8" y="2013.3">Vt</text><text x="1650.8" y="2036.7">Vn</text>
</g>
<g class="tk" text-anchor="end" dominant-baseline="central">
  <text x="109" y="1972">400</text><text x="109" y="2016.3">300</text><text x="109" y="2060.7">200</text>
  <text x="109" y="2105">100</text><text x="109" y="2149.4">0</text><text x="109" y="2193.7">−100</text>
</g>
<g class="tk" text-anchor="middle" dominant-baseline="central">
  <text x="116.7" y="2211">06/25 01:10:33</text><text x="290.7" y="2211">06/25 01:10:34</text>
  <text x="464.7" y="2211">06/25 01:10:35</text><text x="638.8" y="2211">06/25 01:10:36</text>
  <text x="812.8" y="2211">06/25 01:10:37</text><text x="986.8" y="2211">06/25 01:10:38</text>
  <text x="1160.8" y="2211">06/25 01:10:39</text><text x="1334.8" y="2211">06/25 01:10:40</text>
  <text x="1508.9" y="2211">06/25 01:10:41</text><text x="1682.9" y="2211">06/25 01:10:42</text>
</g>
<text class="lb" transform="translate(40,2082.8) rotate(-90)" text-anchor="middle" dominant-baseline="central">Vsw(km/s)</text>

<!-- P10: Plasma Beta -->
<text class="ti" x="899.8" y="2295.7" text-anchor="middle">Plasma Beta</text>
<g clip-path="url(#cts)" fill="none" stroke-width="2">
  <polyline stroke="#0000ff" points="116.7,2419.3 290.7,2360.3 464.7,2419.7 638.8,2312 812.8,2357.7 986.8,2360 1160.8,2425.6 1334.8,2491 1508.9,2473 1682.9,2483.3"/>
</g>
<use href="#xt" y="2305.7"/>
<path d="M116.7 2350.1h7M116.7 2394.5h7M116.7 2438.9h7M116.7 2483.3h7M1682.9 2350.1h-7M1682.9 2394.5h-7M1682.9 2438.9h-7M1682.9 2483.3h-7" stroke="#000" stroke-width="1.2"/>
<rect x="116.7" y="2305.7" width="1566.2" height="222" fill="none" stroke="#000" stroke-width="2"/>
<g class="tk" text-anchor="end" dominant-baseline="central">
  <text x="109" y="2305.7">0.70</text><text x="109" y="2350.1">0.65</text><text x="109" y="2394.5">0.60</text>
  <text x="109" y="2438.9">0.55</text><text x="109" y="2483.3">0.50</text><text x="109" y="2527.7">0.45</text>
</g>
<g class="tk" text-anchor="middle" dominant-baseline="central">
  <text x="116.7" y="2545">06/25 01:10:33</text><text x="290.7" y="2545">06/25 01:10:34</text>
  <text x="464.7" y="2545">06/25 01:10:35</text><text x="638.8" y="2545">06/25 01:10:36</text>
  <text x="812.8" y="2545">06/25 01:10:37</text><text x="986.8" y="2545">06/25 01:10:38</text>
  <text x="1160.8" y="2545">06/25 01:10:39</text><text x="1334.8" y="2545">06/25 01:10:40</text>
  <text x="1508.9" y="2545">06/25 01:10:41</text><text x="1682.9" y="2545">06/25 01:10:42</text>
</g>
<text class="lb" transform="translate(48,2416.7) rotate(-90)" text-anchor="middle" dominant-baseline="central"><tspan class="mt">β</tspan><tspan class="mt" font-size="11" dy="4">p</tspan></text>

<!-- P11: Proton Number Density -->
<text class="ti" x="899.8" y="2629" text-anchor="middle">Proton Number Density</text>
<g clip-path="url(#cts)" fill="none" stroke-width="2">
  <polyline stroke="#0000ff" points="116.7,2792 290.7,2700 464.7,2792.7 638.8,2641 812.8,2756.7 986.8,2721 1160.8,2775 1334.8,2837.7 1508.9,2781 1682.9,2773.7"/>
</g>
<use href="#xt" y="2639"/>
<path d="M116.7 2676h7M116.7 2712.9h7M116.7 2749.9h7M116.7 2786.8h7M116.7 2823.8h7M1682.9 2676h-7M1682.9 2712.9h-7M1682.9 2749.9h-7M1682.9 2786.8h-7M1682.9 2823.8h-7" stroke="#000" stroke-width="1.2"/>
<rect x="116.7" y="2639" width="1566.2" height="221.7" fill="none" stroke="#000" stroke-width="2"/>
<g class="tk" text-anchor="end" dominant-baseline="central">
  <text x="109" y="2639">290</text><text x="109" y="2676">285</text><text x="109" y="2712.9">280</text>
  <text x="109" y="2749.9">275</text><text x="109" y="2786.8">270</text><text x="109" y="2823.8">265</text>
  <text x="109" y="2860.7">260</text>
</g>
<g class="tk" text-anchor="middle" dominant-baseline="central">
  <text x="116.7" y="2877.7">06/25 01:10:33</text><text x="290.7" y="2877.7">06/25 01:10:34</text>
  <text x="464.7" y="2877.7">06/25 01:10:35</text><text x="638.8" y="2877.7">06/25 01:10:36</text>
  <text x="812.8" y="2877.7">06/25 01:10:37</text><text x="986.8" y="2877.7">06/25 01:10:38</text>
  <text x="1160.8" y="2877.7">06/25 01:10:39</text><text x="1334.8" y="2877.7">06/25 01:10:40</text>
  <text x="1508.9" y="2877.7">06/25 01:10:41</text><text x="1682.9" y="2877.7">06/25 01:10:42</text>
</g>
<text class="lb" transform="translate(56,2749.9) rotate(-90)" text-anchor="middle" dominant-baseline="central">Np(#/cc)</text>

<!-- P12: Proton Temperature -->
<text class="ti" x="899.8" y="2963" text-anchor="middle">Proton Temperature and <tspan class="mt">T</tspan><tspan class="mt" font-size="15" dy="5">c</tspan><tspan class="mt" dy="-5">/T</tspan><tspan class="mt" font-size="15" dy="5">p</tspan></text>
<g clip-path="url(#cts)" fill="none" stroke-width="2">
  <polyline stroke="#0000ff" points="116.7,3154 290.7,3101.3 464.7,3121.3 638.8,2992 812.8,3035 986.8,3012.3 1160.8,3105 1334.8,3154.3 1508.9,3148.3 1682.9,3188"/>
</g>
<use href="#xt" y="2973"/>
<path d="M116.7 3022.3h7M116.7 3071.7h7M116.7 3121h7M116.7 3170.3h7M1682.9 3022.3h-7M1682.9 3071.7h-7M1682.9 3121h-7M1682.9 3170.3h-7" stroke="#000" stroke-width="1.2"/>
<rect x="116.7" y="2973" width="1566.2" height="221.7" fill="none" stroke="#000" stroke-width="2"/>
<rect x="124" y="2979.3" width="71.2" height="27.7" fill="#fff" stroke="#000" stroke-width="2"/>
<line x1="134.3" y1="2992.7" x2="156.1" y2="2992.7" stroke="#0000ff" stroke-width="2.3"/>
<text class="lg" x="169.9" y="2992.7" dominant-baseline="central">Tp</text>
<g class="tk" text-anchor="end" dominant-baseline="central">
  <text x="109" y="2973">0.28</text><text x="109" y="3022.3">0.27</text><text x="109" y="3071.7">0.26</text>
  <text x="109" y="3121">0.25</text><text x="109" y="3170.3">0.24</text>
</g>
<g class="tk" text-anchor="middle" dominant-baseline="central">
  <text x="116.7" y="3211.7">06/25 01:10:33</text><text x="290.7" y="3211.7">06/25 01:10:34</text>
  <text x="464.7" y="3211.7">06/25 01:10:35</text><text x="638.8" y="3211.7">06/25 01:10:36</text>
  <text x="812.8" y="3211.7">06/25 01:10:37</text><text x="986.8" y="3211.7">06/25 01:10:38</text>
  <text x="1160.8" y="3211.7">06/25 01:10:39</text><text x="1334.8" y="3211.7">06/25 01:10:40</text>
  <text x="1508.9" y="3211.7">06/25 01:10:41</text><text x="1682.9" y="3211.7">06/25 01:10:42</text>
</g>
<text class="lb" transform="translate(46,3083.8) rotate(-90)" text-anchor="middle" dominant-baseline="central">Tp(10<tspan font-size="11" dy="-6">6</tspan><tspan dy="6">K)</tspan></text>
</svg>
</body>
</html>
